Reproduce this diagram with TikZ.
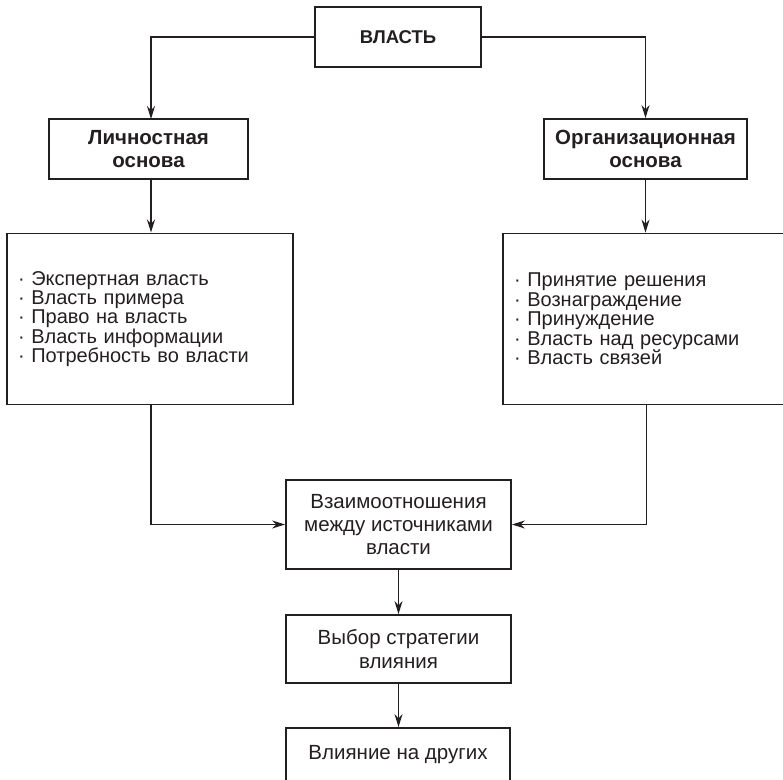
\documentclass[tikz,border=0pt]{standalone}
\usepackage{fontspec}
\setmainfont{Liberation Sans}
\usetikzlibrary{arrows.meta}
\definecolor{ink}{HTML}{231F20}
\tikzset{
  box/.style={draw=ink, line width=1.8pt, inner sep=0pt, align=center, text=ink},
  listbox/.style={draw=ink, line width=1.8pt, inner xsep=11pt, inner ysep=0pt, align=left, text=ink},
  arr/.style={draw=ink, line width=1.6pt, -{Stealth[length=13pt,width=8pt]}},
  tfont/.style={font=\fontsize{18.5}{23}\selectfont\bfseries},
  bfont/.style={font=\fontsize{20.5}{23}\selectfont\bfseries},
  nfont/.style={font=\fontsize{20.5}{23.3}\selectfont},
  lfont/.style={font=\fontsize{20}{19.4}\selectfont}
}
\begin{document}
\begin{tikzpicture}[x=1pt,y=-1pt]
\useasboundingbox (0,0) rectangle (783,779);
\clip (0,0) rectangle (783,779);
\node[box,tfont,minimum width=166pt,minimum height=60pt] (vlast) at (398,37) {ВЛАСТЬ};
\node[box,bfont,minimum width=199pt,minimum height=60pt] (lh) at (148.5,149) {Личностная\\основа};
\node[box,bfont,minimum width=203pt,minimum height=60pt] (rh) at (645.5,149) {Организационная\\основа};
\node[listbox,lfont,text width=264pt,minimum height=171pt] (ll) at (150,319)
  {· Экспертная власть\\· Власть примера\\· Право на власть\\· Власть информации\\· Потребность во власти};
\node[listbox,lfont,text width=265pt,minimum height=171pt] (rl) at (646.5,319)
  {· Принятие решения\\· Вознаграждение\\· Принуждение\\· Власть над ресурсами\\· Власть связей};
\node[box,nfont,minimum width=225pt,minimum height=89pt] (rel) at (398.5,524.5)
  {Взаимоотношения\\между источниками\\власти};
\node[box,nfont,minimum width=225pt,minimum height=68pt] (strat) at (398.5,649)
  {Выбор стратегии\\влияния};
\node[box,nfont,minimum width=224pt,minimum height=54pt] (infl) at (398,755)
  {Влияние на других};
\coordinate (lhtop) at (151,119);
\coordinate (lhbot) at (151,179);
\coordinate (lltop) at (151,232.5);
\coordinate (llbot) at (151,403.5);
\draw[arr] (vlast.west) -| (lhtop);
\draw[arr] (vlast.east) -| (rh.north);
\draw[arr] (lhbot) -- (lltop);
\draw[arr] (rh.south) -- (rh.south |- rl.north);
\draw[arr] (llbot) |- (rel.west);
\draw[arr] (rl.south) |- (rel.east);
\draw[arr] (rel.south) -- (rel.south |- strat.north);
\draw[arr] (strat.south) -- (strat.south |- infl.north);
\end{tikzpicture}
\end{document}
